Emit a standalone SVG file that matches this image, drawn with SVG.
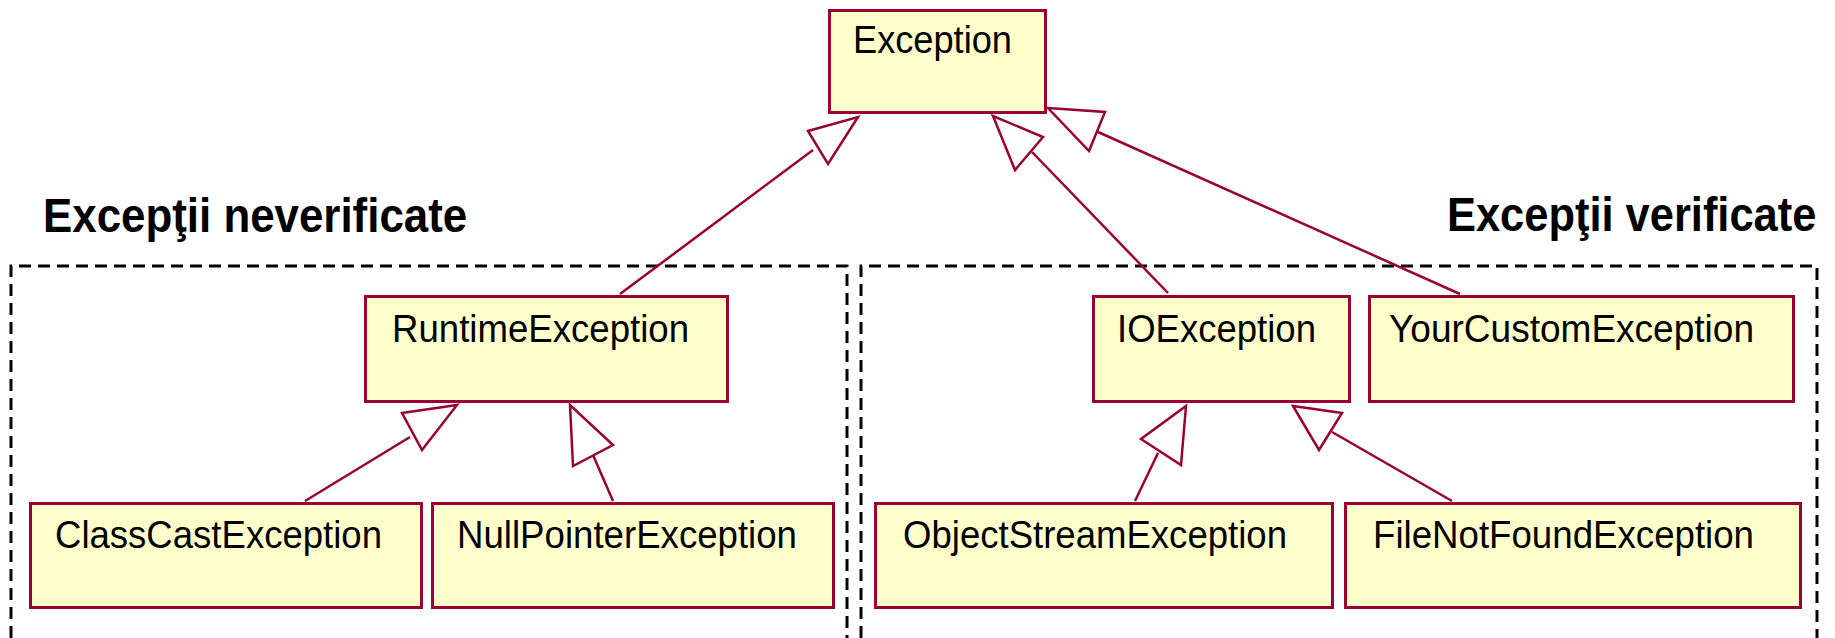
<svg xmlns="http://www.w3.org/2000/svg" width="1835" height="638" viewBox="0 0 1835 638">
<style>
.node rect{fill:#FFFFCC;stroke:#990033;stroke-width:3}
.node text{font-family:"Liberation Sans",Arial,sans-serif;font-size:38px;fill:#000}
.title{font-family:"Liberation Sans",Arial,sans-serif;font-size:48px;font-weight:bold;fill:#000}
.pkg{fill:none;stroke:#000;stroke-width:3;stroke-dasharray:12 7}
#connectors line{stroke:#990033;stroke-width:2.5}
#connectors polygon{fill:#fff;stroke:#990033;stroke-width:2.5;stroke-linejoin:miter}
</style>
<rect width="1835" height="638" fill="#fff"/>
<g id="packages">
<path class="pkg" d="M11,638 V266 H847 V638"/>
<path class="pkg" d="M861,638 V266 H1817 V638"/>
</g>
<text class="title" transform="translate(43,232) scale(0.914,1)" x="0" y="0">Excepţii neverificate</text>
<text class="title" transform="translate(1447,231) scale(0.905,1)" x="0" y="0">Excepţii verificate</text>
<g id="connectors">
<line x1="620" y1="294" x2="813" y2="150"/>
<polygon points="808,131 858,117 828,164"/>
<line x1="1168" y1="293" x2="1032" y2="152"/>
<polygon points="993,116 1043,137 1015,170"/>
<line x1="1460" y1="294" x2="1098" y2="132"/>
<polygon points="1048,108 1105,112 1089,151"/>
<line x1="305" y1="501" x2="410" y2="437"/>
<polygon points="402,413 457,405 422,450"/>
<line x1="613" y1="501" x2="593" y2="455"/>
<polygon points="570,405 573,466 613,445"/>
<line x1="1135" y1="501" x2="1158" y2="453"/>
<polygon points="1186,406 1141,439 1181,465"/>
<line x1="1452" y1="501" x2="1332" y2="432"/>
<polygon points="1293,406 1342,413 1319,450"/>
</g>
<g id="Exception" class="node"><rect x="829.5" y="10.5" width="216" height="102"/><text x="853" y="53" textLength="159" lengthAdjust="spacingAndGlyphs">Exception</text></g>
<g id="RuntimeException" class="node"><rect x="365.5" y="296.5" width="362" height="105"/><text x="392" y="342" textLength="297" lengthAdjust="spacingAndGlyphs">RuntimeException</text></g>
<g id="IOException" class="node"><rect x="1093.5" y="296.5" width="256" height="105"/><text x="1117" y="342" textLength="199" lengthAdjust="spacingAndGlyphs">IOException</text></g>
<g id="YourCustomException" class="node"><rect x="1369.5" y="296.5" width="424" height="105"/><text x="1389" y="342" textLength="365" lengthAdjust="spacingAndGlyphs">YourCustomException</text></g>
<g id="ClassCastException" class="node"><rect x="30.5" y="503.5" width="391" height="104"/><text x="55" y="548" textLength="327" lengthAdjust="spacingAndGlyphs">ClassCastException</text></g>
<g id="NullPointerException" class="node"><rect x="432.5" y="503.5" width="401" height="104"/><text x="457" y="548" textLength="340" lengthAdjust="spacingAndGlyphs">NullPointerException</text></g>
<g id="ObjectStreamException" class="node"><rect x="875.5" y="503.5" width="457" height="104"/><text x="903" y="548" textLength="384" lengthAdjust="spacingAndGlyphs">ObjectStreamException</text></g>
<g id="FileNotFoundException" class="node"><rect x="1345.5" y="503.5" width="455" height="104"/><text x="1373" y="548" textLength="381" lengthAdjust="spacingAndGlyphs">FileNotFoundException</text></g>
</svg>
